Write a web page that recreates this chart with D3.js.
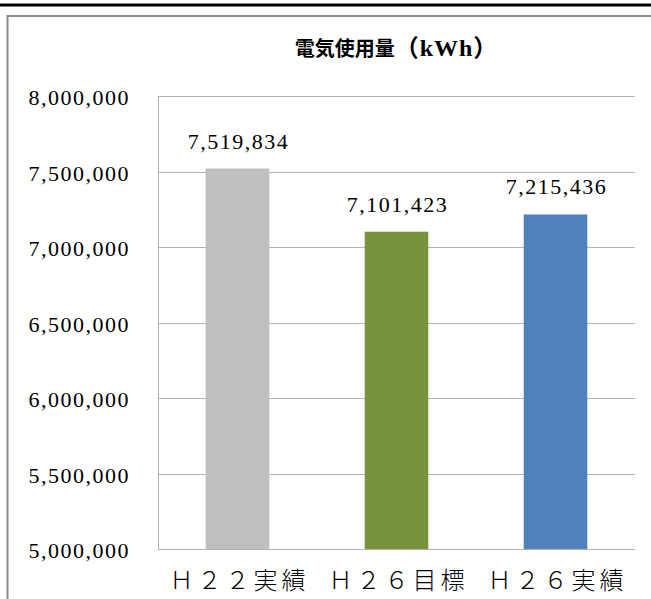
<!DOCTYPE html>
<html>
<head>
<meta charset="utf-8">
<script src="https://cdn.jsdelivr.net/npm/d3@7"></script>
<style>
body { margin: 0; background: #fff; }
svg { display: block; }
.tick-label, .value { font-family: "Liberation Serif", "DejaVu Serif", serif; font-size: 22px; fill: #000; letter-spacing: 1.5px; }
.cat { font-family: "Noto Sans CJK JP", sans-serif; font-size: 24px; font-weight: 300; fill: #000; letter-spacing: 4px; }
.title { font-family: "Noto Sans CJK JP", sans-serif; font-size: 20px; font-weight: bold; fill: #000; }
.title .unit { font-family: "Liberation Serif", "Noto Sans CJK JP", serif; font-size: 24px; letter-spacing: 1px; }
</style>
</head>
<body>
<script>
var width = 651, height = 599;

var categories = ["Ｈ２２実績", "Ｈ２６目標", "Ｈ２６実績"];
var usage = [7519834, 7101423, 7215436];
var barColors = ["#bfbfbf", "#77933c", "#4f81bd"];
var yTicks = [5000000, 5500000, 6000000, 6500000, 7000000, 7500000, 8000000];
var titleMain = "電気使用量", titleUnit = "（kWh）";

var plotLeft = 158, plotRight = 635, plotTop = 96, plotBottom = 549;

var svg = d3.select("body").append("svg")
    .attr("width", width).attr("height", height);

// top rule and outer frame
svg.append("rect").attr("x", 0).attr("y", 3.5).attr("width", width).attr("height", 3).attr("fill", "#000");
svg.append("rect").attr("x", 7.5).attr("y", 16).attr("width", 700).attr("height", 700)
    .attr("fill", "none").attr("stroke", "#8c8c8c").attr("stroke-width", 2);

var x = d3.scaleBand().domain(categories).range([plotLeft, plotRight]).paddingInner(0.6).paddingOuter(0.3);
var y = d3.scaleLinear().domain([5000000, 8000000]).range([plotBottom, plotTop]);

var fmt = d3.format(",");

// gridlines
svg.append("g").selectAll("line").data(yTicks).enter().append("line")
    .attr("x1", plotLeft).attr("x2", plotRight)
    .attr("y1", function(d){ return Math.round(y(d)) + 0.5; })
    .attr("y2", function(d){ return Math.round(y(d)) + 0.5; })
    .attr("stroke", "#b3b3b3").attr("stroke-width", 1);

// y axis line
svg.append("line").attr("x1", plotLeft + 0.5).attr("x2", plotLeft + 0.5).attr("y1", plotTop).attr("y2", plotBottom + 1)
    .attr("stroke", "#b3b3b3");

// y tick labels
svg.append("g").selectAll("text").data(yTicks).enter().append("text")
    .classed("tick-label", true)
    .attr("x", 130).attr("y", function(d){ return y(d) + 9; })
    .attr("text-anchor", "end")
    .text(function(d){ return fmt(d); });

// bars
svg.append("g").selectAll("rect").data(usage).enter().append("rect")
    .attr("x", function(d, i){ return x(categories[i]); })
    .attr("width", x.bandwidth())
    .attr("y", function(d){ return y(d); })
    .attr("height", function(d){ return plotBottom - y(d); })
    .attr("fill", function(d, i){ return barColors[i]; });

// redraw base axis over bars
svg.append("line").attr("x1", plotLeft).attr("x2", plotRight).attr("y1", plotBottom + 0.5).attr("y2", plotBottom + 0.5)
    .attr("stroke", "#b3b3b3");

// value labels
svg.append("g").selectAll("text").data(usage).enter().append("text")
    .classed("value", true)
    .attr("x", function(d, i){ return x(categories[i]) + x.bandwidth() / 2 + 1; })
    .attr("y", function(d){ return y(d) - 20; })
    .attr("text-anchor", "middle")
    .text(function(d){ return fmt(d); });

// category labels
svg.append("g").selectAll("text").data(categories).enter().append("text")
    .classed("cat", true)
    .attr("x", function(d){ return x(d) + x.bandwidth() / 2 + 2; })
    .attr("y", 589)
    .attr("text-anchor", "middle")
    .text(function(d){ return d; });

var t = svg.append("text").classed("title", true)
    .attr("x", (plotLeft + plotRight) / 2).attr("y", 56)
    .attr("text-anchor", "middle");
t.append("tspan").text(titleMain);
t.append("tspan").classed("unit", true).text(titleUnit);
</script>
</body>
</html>
